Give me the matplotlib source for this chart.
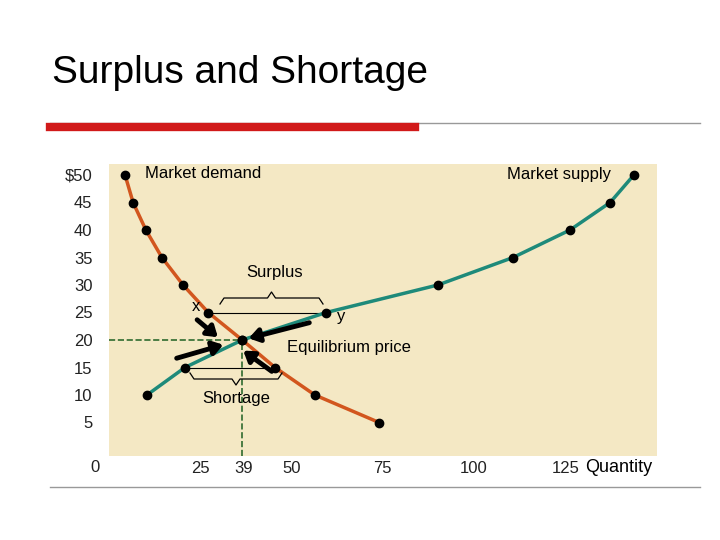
import matplotlib
matplotlib.use("Agg")
import matplotlib.pyplot as plt
from matplotlib.lines import Line2D
from matplotlib.patches import FancyArrowPatch

plt.rcParams['font.family'] = ['Liberation Sans', 'DejaVu Sans']

demand_q = [4.4, 6.6, 10.1, 14.5, 20.3, 27.2, 36.5, 45.5, 56.4, 74]
demand_p = [50, 45, 40, 35, 30, 25, 20, 15, 10, 5]
supply_q = [10.4, 20.8, 36.5, 59.5, 90.1, 110.7, 126.3, 137.3, 143.8]
supply_p = [10, 15, 20, 25, 30, 35, 40, 45, 50]
y_ticks = [50, 45, 40, 35, 30, 25, 20, 15, 10, 5]
y_labels = ["$50", "45", "40", "35", "30", "25", "20", "15", "10", "5"]
x_ticks = [25, 37, 50, 75, 100, 125]
x_labels = ["25", "39", "50", "75", "100", "125"]
eq_q, eq_p = 36.5, 20

W, H = 720, 540
fig = plt.figure(figsize=(7.2, 5.4), dpi=100)

def fx(x): return x / W
def fy(y): return 1 - y / H

fig.text(fx(52), fy(73), "Surplus and Shortage", fontsize=28, va='center')
fig.add_artist(Line2D([fx(50), fx(700)], [fy(123), fy(123)], color='#999999', lw=1))
fig.add_artist(Line2D([fx(50), fx(415)], [fy(127), fy(127)], color='#d11a1a', lw=6))
fig.add_artist(Line2D([fx(50), fx(700)], [fy(487), fy(487)], color='#999999', lw=1))

ax = fig.add_axes([fx(109), fy(455.5), (656.5 - 109) / W, (455.5 - 164) / H])
ax.set_xlim(0, 150)
ax.set_ylim(-1, 52)
ax.set_facecolor('#f4e8c4')
for s in ax.spines.values():
    s.set_visible(False)
ax.set_yticks(y_ticks)
ax.set_yticklabels(y_labels, fontsize=12, color='#222222')
ax.set_xticks(x_ticks)
ax.set_xticklabels(x_labels, fontsize=12, color='#222222')
ax.tick_params(length=0, pad=4)
ax.tick_params(axis='y', pad=12)

fig.text(fx(95), fy(467), "0", fontsize=12, ha='center', va='center', color='#222222')
fig.text(fx(585), fy(468), "Quantity", fontsize=13, ha='left', va='center')

ax.plot(demand_q, demand_p, color='#d2561e', lw=2.5, zorder=2)
ax.plot(supply_q, supply_p, color='#1e8a7a', lw=2.5, zorder=2)
ax.plot(demand_q, demand_p, 'o', color='black', ms=6, zorder=3)
ax.plot(supply_q, supply_p, 'o', color='black', ms=6, zorder=3)

ax.plot([0, eq_q], [eq_p, eq_p], ls='--', color='#2e6b2e', lw=1.2, zorder=1)
ax.plot([eq_q, eq_q], [-1, eq_p], ls='--', color='#2e6b2e', lw=1.2, zorder=1)

ax.plot([demand_q[5], supply_q[3]], [25, 25], color='black', lw=0.8, zorder=1)
ax.plot([supply_q[1], demand_q[7]], [15, 15], color='black', lw=0.8, zorder=1)

ax.text(9.8, 49.5, "Market demand", fontsize=12)
ax.text(109, 49.2, "Market supply", fontsize=12)
ax.text(37.5, 31.5, "Surplus", fontsize=12)
ax.text(22.7, 25.2, "x", fontsize=12)
ax.text(62.6, 23.5, "y", fontsize=12)
ax.text(48.8, 17.8, "Equilibrium price", fontsize=12)
ax.text(25.5, 8.5, "Shortage", fontsize=12)

def brace(x0, x1, y, up=True):
    d = -6 if up else 6
    xm = (x0 + x1) / 2
    xs = [x0, x0 + 4, xm - 4, xm, xm + 4, x1 - 4, x1]
    ys = [y, y + d, y + d, y + 2 * d, y + d, y + d, y]
    fig.add_artist(Line2D([fx(v) for v in xs], [fy(v) for v in ys], color='black', lw=0.9))
brace(220, 323, 304, up=True)
brace(190, 282, 373, up=False)

arrows = [((195, 318), (220, 339)), ((312, 322), (246, 339)),
          ((174, 359), (226, 344)), ((274, 373), (241, 349))]
for (a, b) in arrows:
    fig.add_artist(FancyArrowPatch(
        (fx(a[0]), fy(a[1])), (fx(b[0]), fy(b[1])), transform=fig.transFigure,
        arrowstyle='-|>,head_length=6,head_width=4', lw=3.5, color='black', zorder=5))

fig.savefig("out.png", dpi=100)
